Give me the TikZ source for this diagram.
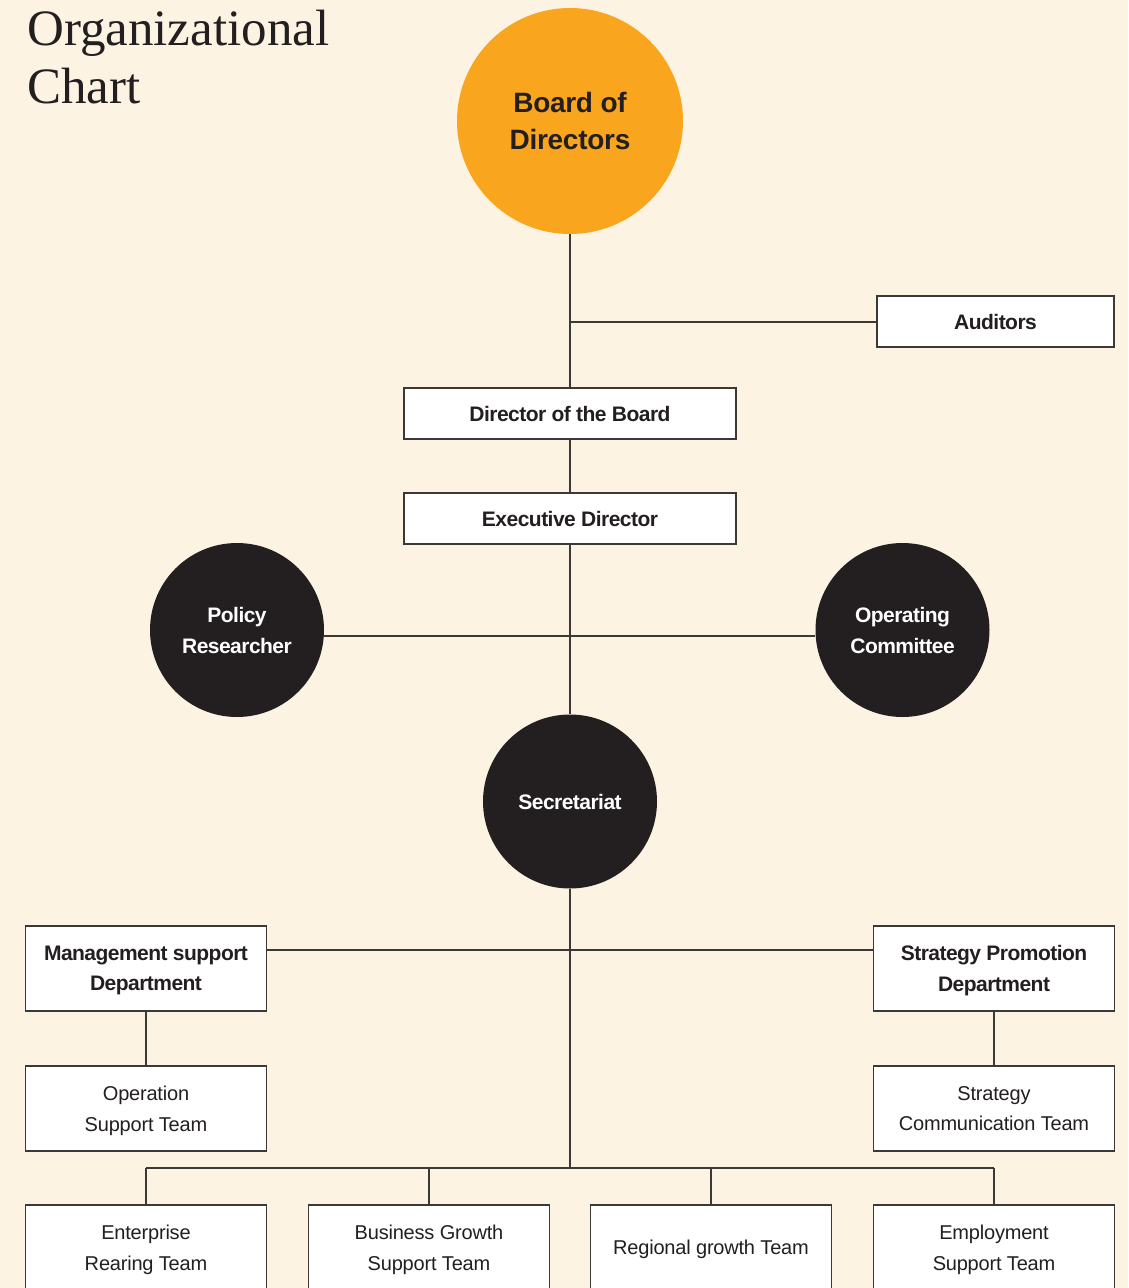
\documentclass[tikz,border=0pt]{standalone}
\usepackage{fontspec}
\newfontfamily\uisans[LetterSpace=-2.5]{Liberation Sans}
\newfontfamily\uisansreg[LetterSpace=-1]{Liberation Sans}
\newfontfamily\titleserif{Liberation Serif}
\definecolor{bgc}{HTML}{FDF3E3}
\definecolor{orangec}{HTML}{F9A61E}
\definecolor{darkc}{HTML}{231F20}
\definecolor{linec}{HTML}{3B3838}
\begin{document}
\begin{tikzpicture}[x=1pt,y=-1pt,
  conn/.style={draw=linec, line width=1.3pt},
  box/.style={rectangle, draw=linec, line width=1.3pt, fill=white, inner sep=0pt, align=center, text=darkc, text depth=0pt},
  narrowbox/.style={box, minimum height=51pt},
  tallbox/.style={box, minimum width=241pt, minimum height=85pt},
  boldtxt/.style={font=\uisans\bfseries\fontsize{21}{30.5}\selectfont},
  regtxt/.style={font=\uisansreg\fontsize{20}{30.5}\selectfont},
  darkcircle/.style={circle, fill=darkc, minimum size=174pt, inner sep=0pt, align=center, text=white, font=\uisans\bfseries\fontsize{21}{31}\selectfont},
  titletxt/.style={anchor=base west, inner sep=0pt, text=darkc, font=\titleserif\fontsize{51}{58}\selectfont}
]
\useasboundingbox (0,0) rectangle (1128,1288);
\clip (0,0) rectangle (1128,1288);
\fill[bgc] (0,0) rectangle (1128,1288);

% title
\node[titletxt] (title1) at (27,45) {Organizational};
\node[titletxt] (title2) at (27,103) {Chart};

% top
\node[circle, fill=orangec, minimum size=226pt, inner sep=0pt, align=center, text=darkc,
      font=\uisansreg\bfseries\fontsize{28}{37}\selectfont] (board) at (570,121) {Board of\\Directors};
\node[narrowbox, boldtxt, minimum width=237pt] (aud) at (995.5,321.5) {Auditors};
\node[narrowbox, boldtxt, minimum width=332pt] (dob) at (570,413.5) {Director of the Board};
\node[narrowbox, boldtxt, minimum width=332pt] (exec) at (570,518.5) {Executive Director};

% circles
\node[darkcircle] (policy) at (237,630) {Policy\\Researcher};
\node[darkcircle] (opcom) at (902.5,630) {Operating\\Committee};
\node[darkcircle] (sec) at (570,801.5) {Secretariat};

% departments
\node[tallbox, boldtxt] (mgmt) at (146,968.5) {Management support\\Department};
\node[tallbox, regtxt] (ops) at (146,1108.5) {Operation\\Support Team};
\node[tallbox, boldtxt] (strat) at (994,968.5) {Strategy Promotion\\Department};
\node[tallbox, regtxt] (scomm) at (994,1108.5) {Strategy\\Communication Team};

% bottom teams
\node[tallbox, regtxt] (ent) at (146,1247.5) {Enterprise\\Rearing Team};
\node[tallbox, regtxt] (bgs) at (429,1247.5) {Business Growth\\Support Team};
\node[tallbox, regtxt] (reg) at (711,1247.5) {Regional growth Team};
\node[tallbox, regtxt] (emp) at (994,1247.5) {Employment\\Support Team};

% junctions
\coordinate (jA) at (570,322);
\coordinate (jB) at (570,636);
\coordinate (jC) at (570,950);
\coordinate (jD) at (570,1168);

% connectors
\draw[conn] (board.south) -- (dob.north);
\draw[conn] (jA) -- (aud.west |- jA);
\draw[conn] (dob.south) -- (exec.north);
\draw[conn] (exec.south) -- (sec.north);
\draw[conn] (policy.east |- jB) -- (opcom.west |- jB);
\draw[conn] (sec.south) -- (jD);
\draw[conn] (mgmt.east |- jC) -- (strat.west |- jC);
\draw[conn] (mgmt.south) -- (ops.north);
\draw[conn] (strat.south) -- (scomm.north);
\draw[conn] (jD -| ent.north) -- (jD -| emp.north);
\draw[conn] (jD -| ent.north) -- (ent.north);
\draw[conn] (jD -| bgs.north) -- (bgs.north);
\draw[conn] (jD -| reg.north) -- (reg.north);
\draw[conn] (jD -| emp.north) -- (emp.north);
\end{tikzpicture}
\end{document}
